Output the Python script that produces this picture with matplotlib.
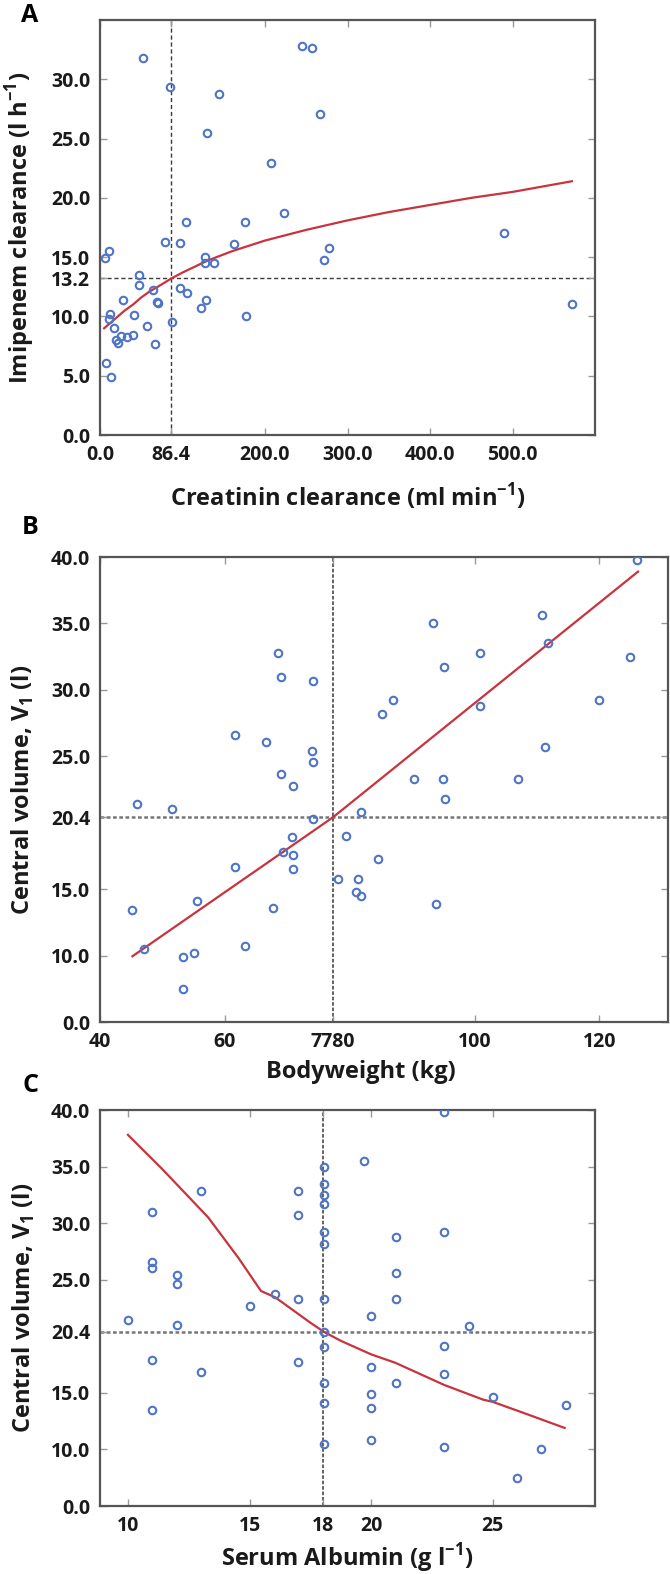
import numpy as np
import matplotlib
matplotlib.use("Agg")
import matplotlib.pyplot as plt

plt.rcParams['font.family'] = ['Open Sans', 'Lato', 'DejaVu Sans']
plt.rcParams['font.weight'] = 'bold'
plt.rcParams['mathtext.fontset'] = 'custom'
plt.rcParams['mathtext.rm'] = 'Open Sans:bold'

# panel A: creatinin clearance vs imipenem clearance
crcl = [52.4, 84.6, 144, 130, 244.5, 257, 267, 207, 222.7, 104, 175.5, 490, 79, 96.6, 163,
        278, 11, 5.7, 126.7, 127.7, 138, 271, 46.7, 46.7, 63.9, 96.6, 106, 27.5, 128, 69,
        70.6, 122, 572.7, 12, 10.4, 41, 177, 87, 17, 56.6, 25, 32.7, 39.5, 19.2, 22, 67,
        7.8, 13]
imi_cl = [31.8, 29.35, 28.8, 25.5, 32.8, 32.6, 27.1, 22.9, 18.7, 18.0, 18.0, 17.05, 16.3, 16.2, 16.1,
          15.8, 15.5, 14.9, 15.0, 14.5, 14.5, 14.75, 13.5, 12.65, 12.2, 12.4, 12.0, 11.4, 11.4, 11.25,
          11.1, 10.7, 11.05, 10.2, 9.8, 10.1, 10.0, 9.55, 9.0, 9.2, 8.35, 8.3, 8.45, 8.0, 7.8, 7.7,
          6.05, 4.9]
fitA_x = [5, 10, 20, 30, 40, 50, 60, 70, 86.4, 100, 130, 160, 200, 250, 300, 350, 400, 450, 500, 572]
fitA_y = [9.0, 9.3, 9.9, 10.5, 11.0, 11.6, 12.1, 12.5, 13.2, 13.7, 14.7, 15.5, 16.4, 17.3, 18.1,
          18.8, 19.4, 20.0, 20.5, 21.4]
refA_x, refA_y = 86.4, 13.2

# panel B: bodyweight vs central volume
bw = [126.0, 93.3, 110.8, 111.8, 124.9, 68.5, 100.9, 69.0, 74.2, 95.1, 87.0, 85.1, 100.9, 120.0,
      61.6, 66.6, 73.9, 74.2, 111.3, 69.0, 71.0, 90.3, 94.9, 106.9, 95.3, 45.9, 51.5, 81.8, 74.2,
      70.7, 79.4, 69.3, 71.0, 84.6, 61.6, 71.0, 78.1, 81.3, 81.0, 81.8, 93.8, 55.6, 45.2, 67.7,
      47.0, 63.2, 53.3, 55.1, 53.3]
v1_b = [39.8, 35.0, 35.6, 33.5, 32.5, 32.8, 32.8, 31.0, 30.7, 31.7, 29.2, 28.2, 28.8, 29.2,
        26.6, 26.1, 25.4, 24.6, 25.7, 23.7, 22.8, 23.3, 23.3, 23.3, 21.8, 21.4, 21.0, 20.8, 20.3,
        18.9, 19.0, 17.8, 17.6, 17.25, 16.7, 16.55, 15.75, 15.75, 14.8, 14.5, 13.9, 14.1, 13.45, 13.6,
        10.5, 10.75, 9.8, 10.2, 4.9]
fitB_x = [45.2, 77.3, 126.2]
fitB_y = [9.9, 20.4, 38.9]
refB_x, refB_y = 77.3, 20.4

# panel C: serum albumin vs central volume
alb = [23, 19.7, 18.05, 18.05, 18.05, 18.05, 13, 17, 11, 17, 18.05, 18.05, 21, 23,
       11, 11, 12, 12, 21, 16.05, 17, 18.05, 21, 15, 20, 10,
       12, 24, 18.05, 18.05, 23, 11, 17, 20, 13, 23, 18.05, 21, 20, 25, 18.05, 20, 11, 28,
       20, 18.05, 23, 27, 26]
v1_c = [39.8, 35.5, 35.0, 33.5, 32.5, 31.7, 32.8, 32.8, 31.0, 30.7, 29.2, 28.2, 28.8, 29.2,
        26.6, 26.0, 25.4, 24.6, 25.6, 23.7, 23.3, 23.3, 23.3, 22.7, 21.8, 21.4,
        21.0, 20.9, 20.4, 19.05, 19.1, 17.9, 17.75, 17.3, 16.8, 16.7, 15.85, 15.85, 14.9, 14.65, 14.1, 13.65, 13.5, 13.95,
        10.8, 10.5, 10.2, 10.0, 4.9]
fitC_x = [10, 11.4, 13.3, 14.55, 15.47, 16.05, 17.5, 18.05, 18.75, 20, 21, 23, 24.6, 25, 26.3, 27.95]
fitC_y = [37.8, 34.8, 30.5, 26.9, 24.0, 23.45, 21.2, 20.4, 19.6, 18.4, 17.65, 15.7, 14.4, 14.2, 13.2, 11.9]
refC_x, refC_y = 18.0, 20.4

blue = '#4d74c6'
red = '#c8333d'
dark = '#3a3a3a'


def fwd(y):
    y = np.asarray(y, dtype=float)
    return np.where(y < 10, 5 + y / 2, y)


def inv(u):
    u = np.asarray(u, dtype=float)
    return np.where(u < 10, (u - 5) * 2, u)


def style(ax):
    for s in ax.spines.values():
        s.set_color('#555555')
        s.set_linewidth(1.6)
    ax.tick_params(direction='in', top=True, right=True, length=5, width=1,
                   color='#999999', labelsize=14, labelcolor='#1a1a1a')
    ax.tick_params(axis='x', pad=7)
    ax.tick_params(axis='y', pad=7)


fig = plt.figure(figsize=(6.7, 15.74), dpi=100)
H = 1574.0
W = 670.0


def add_ax(left, top, right, bottom):
    return fig.add_axes([left / W, 1 - bottom / H, (right - left) / W, (bottom - top) / H])


lbl = dict(fontsize=17, fontweight='bold', color='#1a1a1a')

# ---- A
ax = add_ax(100, 20, 595, 435)
ax.axvline(refA_x, color=dark, lw=1.0, ls=(0, (3, 2)), zorder=1)
ax.axhline(refA_y, color=dark, lw=1.0, ls=(0, (3, 2)), zorder=1)
ax.plot(fitA_x, fitA_y, color=red, lw=1.6, zorder=2)
ax.plot(crcl, imi_cl, 'o', mfc='none', mec=blue, ms=5.4, mew=1.5, zorder=3)
ax.set_xlim(0, 600)
ax.set_ylim(0, 35)
ax.set_xticks([0, 86.4, 200, 300, 400, 500])
ax.set_xticklabels(['0.0', '86.4', '200.0', '300.0', '400.0', '500.0'])
ax.set_yticks([0, 5, 10, 13.2, 15, 20, 25, 30])
ax.set_yticklabels(['0.0', '5.0', '10.0', '13.2', '15.0', '20.0', '25.0', '30.0'])
style(ax)
ax.set_xlabel('Creatinin clearance (ml min$^{\\mathregular{-1}}$)', labelpad=12, **lbl)
ax.set_ylabel('Imipenem clearance (l h$^{\\mathregular{-1}}$)', **lbl)
ax.yaxis.set_label_coords(-0.128, 0.5)
fig.text(30 / W, 1 - 15 / H, 'A', fontsize=18, fontweight='bold', va='center', ha='center')

# ---- B
ax = add_ax(100, 557, 668, 1022)
ax.set_yscale('function', functions=(fwd, inv))
ax.axvline(refB_x, color='#555555', lw=1.3, ls=(0, (2, 1)), zorder=1)
ax.axhline(refB_y, color='#777777', lw=1.8, ls=(0, (1.5, 1)), zorder=1)
ax.plot(fitB_x, fitB_y, color=red, lw=1.6, zorder=2)
ax.plot(bw, v1_b, 'o', mfc='none', mec=blue, ms=5.4, mew=1.5, zorder=3)
ax.set_xlim(40, 131)
ax.set_ylim(0, 40)
ax.set_xticks([40, 60, refB_x, 100, 120])
ax.set_xticklabels(['40', '60', '7780', '100', '120'])
ax.set_yticks([0, 10, 15, 20.4, 25, 30, 35, 40])
ax.set_yticklabels(['0.0', '10.0', '15.0', '20.4', '25.0', '30.0', '35.0', '40.0'])
style(ax)
ax.set_xlabel('Bodyweight (kg)', **lbl)
ax.xaxis.set_label_coords(0.46, -0.082)
ax.set_ylabel('Central volume, V$_{\\mathregular{1}}$ (l)', **lbl)
ax.yaxis.set_label_coords(-0.112, 0.5)
fig.text(30 / W, 1 - 527 / H, 'B', fontsize=18, fontweight='bold', va='center', ha='center')

# ---- C
ax = add_ax(100, 1110, 595, 1506)
ax.set_yscale('function', functions=(fwd, inv))
ax.axvline(refC_x, color='#555555', lw=1.3, ls=(0, (2, 1)), zorder=1)
ax.axhline(refC_y, color='#777777', lw=1.8, ls=(0, (1.5, 1)), zorder=1)
ax.plot(fitC_x, fitC_y, color=red, lw=1.6, zorder=2)
ax.plot(alb, v1_c, 'o', mfc='none', mec=blue, ms=5.4, mew=1.5, zorder=3)
ax.set_xlim(8.85, 29.2)
ax.set_ylim(0, 40)
ax.set_xticks([10, 15, 18, 20, 25])
ax.set_xticklabels(['10', '15', '18', '20', '25'])
ax.set_yticks([0, 10, 15, 20.4, 25, 30, 35, 40])
ax.set_yticklabels(['0.0', '10.0', '15.0', '20.4', '25.0', '30.0', '35.0', '40.0'])
style(ax)
ax.set_xlabel('Serum Albumin (g l$^{\\mathregular{-1}}$)', labelpad=4, **lbl)
ax.set_ylabel('Central volume, V$_{\\mathregular{1}}$ (l)', **lbl)
ax.yaxis.set_label_coords(-0.128, 0.5)
fig.text(30 / W, 1 - 1085 / H, 'C', fontsize=18, fontweight='bold', va='center', ha='center')

fig.savefig('out.png', dpi=100)
